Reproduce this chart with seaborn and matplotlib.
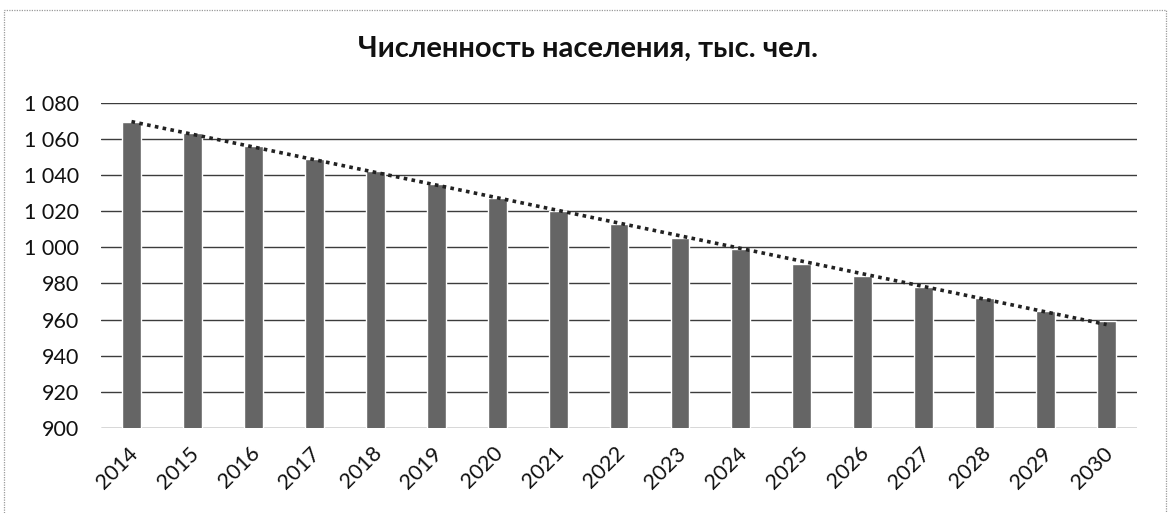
import numpy as np
import pandas as pd
import matplotlib
matplotlib.use("Agg")
import matplotlib.pyplot as plt
import matplotlib.ticker as mticker
import matplotlib.transforms as mtransforms
from matplotlib.patches import Rectangle
import seaborn as sns

sns.set_theme(style="white")
plt.rcParams['font.family'] = ['Lato', 'DejaVu Sans']

# ── data ──────────────────────────────────────────────────────────
years = [str(y) for y in range(2014, 2031)]
population = [1069.5, 1063, 1056, 1049, 1042, 1035, 1027, 1020, 1013,
              1005, 999, 991, 984, 978, 972, 965, 959]
title = "Численность населения, тыс. чел."
y_ticks = list(range(900, 1081, 20))

df = pd.DataFrame({"year": years, "population": population})

# ── figure ────────────────────────────────────────────────────────
fig = plt.figure(figsize=(11.72, 5.13), dpi=100)
ax = fig.add_axes([0.0862, 0.1657, 0.8840, 0.6341])

ax.set_axisbelow(True)
for v in y_ticks:
    ax.axhline(v, color="#3c3c3c", linewidth=1.0, zorder=0)

sns.barplot(data=df, x="year", y="population", color="#656565",
            saturation=1, width=0.31, ax=ax, zorder=2)

# linear trend line (dotted), fitted through the bar values
xpos = np.arange(len(years))
k, b = np.polyfit(xpos, population, 1)
ax.plot(xpos, k * xpos + b, color="#222222", linestyle=(0, (1, 1.2)),
        linewidth=2.6, zorder=3)

ax.set_xlim(-0.5, len(years) - 0.5)
ax.set_ylim(900, 1080)
ax.set_yticks(y_ticks)
ax.yaxis.set_major_formatter(mticker.FuncFormatter(
    lambda v, p: f"{int(v):,}".replace(",", " ")))
ax.set_xlabel("")
ax.set_ylabel("")
for s in ax.spines.values():
    s.set_visible(False)
ax.tick_params(axis="y", length=0, labelsize=15.5, pad=16, labelcolor="#111111")
ax.tick_params(axis="x", length=0, labelsize=15.5, pad=16, labelcolor="#111111")
shift = mtransforms.ScaledTranslation(3 / 100, 0, fig.dpi_scale_trans)
for lbl in ax.get_xticklabels():
    lbl.set_rotation(45)
    lbl.set_ha("right")
    lbl.set_va("center")
    lbl.set_rotation_mode("anchor")
    lbl.set_transform(lbl.get_transform() + shift)

fig.text(0.502, 0.905, title, ha="center", va="center",
         fontsize=21, fontweight="bold", color="#111111")

# chart border
fig.patches.append(Rectangle((0.003, -0.05), 0.992, 1.03,
                             transform=fig.transFigure, fill=False,
                             edgecolor="#9a9a9a", linewidth=0.9,
                             linestyle=(0, (1, 1))))

fig.savefig("out.png", dpi=100)
